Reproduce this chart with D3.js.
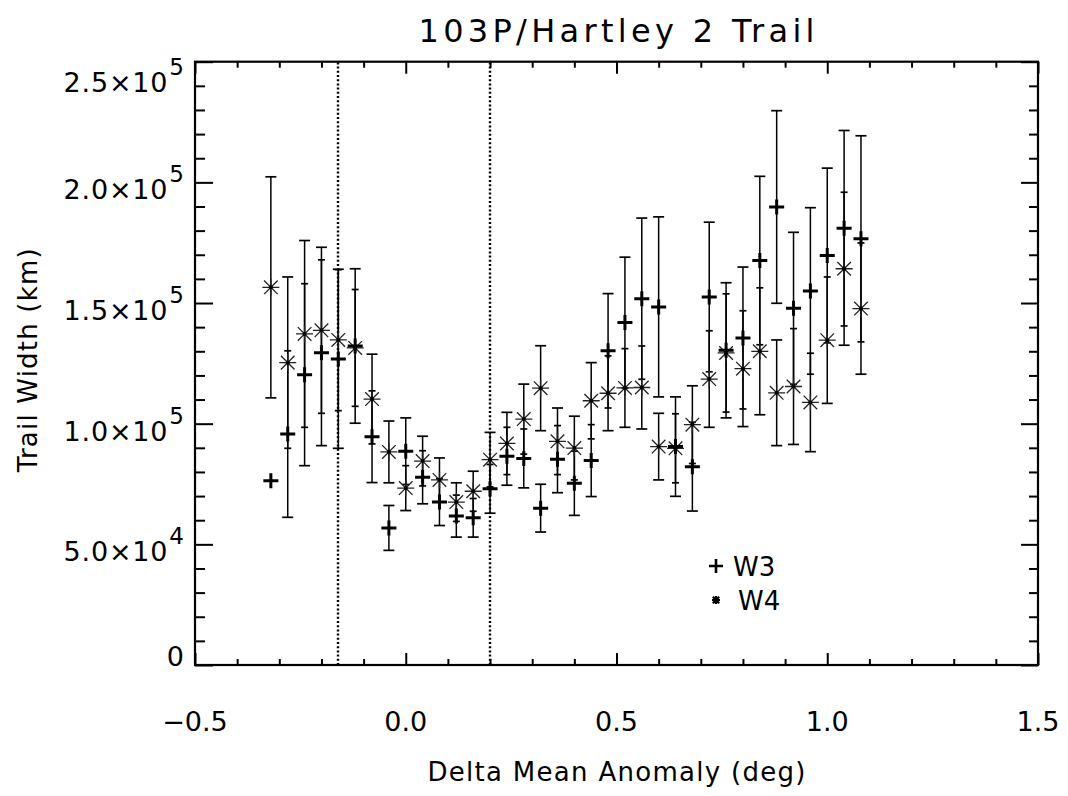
<!DOCTYPE html>
<html>
<head>
<meta charset="utf-8">
<script src="https://cdn.jsdelivr.net/npm/d3@7"></script>
<style>
  html, body { margin: 0; padding: 0; background: #fff; }
  svg { display: block; }
  text { font-family: "DejaVu Sans", sans-serif; fill: #000; }
</style>
</head>
<body>
<svg id="chart" width="1068" height="796"></svg>
<script>
// ---------------- data ----------------
const titleText = "103P/Hartley 2 Trail";
const xTitle = "Delta Mean Anomaly (deg)";
const yTitle = "Trail Width (km)";

const deltaMA = [-0.32,-0.28,-0.24,-0.20,-0.16,-0.12,-0.08,-0.04,0.00,0.04,0.08,0.12,
  0.16,0.20,0.24,0.28,0.32,0.36,0.40,0.44,0.48,0.52,0.56,0.60,0.64,0.68,0.72,0.76,
  0.80,0.84,0.88,0.92,0.96,1.00,1.04,1.08];

const w3Width = [76400,95700,120300,129400,126800,132200,94600,56800,88600,77800,67500,61700,
  61000,73000,86500,85600,65000,85300,75300,84700,130200,141900,151800,148400,90500,82200,
  152500,130400,135500,167600,189800,147800,155000,169700,181000,176600];
const w3Err = [0,34500,37700,38500,37000,32000,19000,9300,13800,11000,9700,8700,
  8000,10100,12000,12200,9900,13900,13300,14900,23700,27100,33400,37300,20600,18400,
  31000,28000,29400,34900,39900,31500,34500,36200,40500,42700];

const w4Width = [156500,125300,137200,138700,134700,131400,110200,88300,73300,84500,76700,67500,
  72000,85100,91800,101900,114700,92700,89900,109500,112600,114800,115000,90500,89800,99600,
  118500,129300,122800,130000,112800,115400,108800,134600,164200,147700];
const w4Err = [45800,35500,38700,34400,29300,24200,18600,12800,9300,10300,9100,8000,
  8300,11300,12900,14500,17600,13800,13200,15800,15500,16300,17200,13800,14300,16100,
  20000,24500,24000,26300,21900,24000,20400,26200,31700,27200];

const markerLines = [-0.16, 0.20];

const xMajorTicks = [-0.5, 0.0, 0.5, 1.0, 1.5];
const xTickLabels = ["\u22120.5", "0.0", "0.5", "1.0", "1.5"];
const yMajorTicks = [0, 50000, 100000, 150000, 200000, 250000];
const yTickMantissa = ["0", "5.0", "1.0", "1.5", "2.0", "2.5"];
const yTickExponent = ["", "4", "5", "5", "5", "5"];

const legendNames = ["W3", "W4"];

// ---------------- layout ----------------
const L = 195, R = 1038, T = 61.7, B = 665;
const svg = d3.select("#chart");
const x = d3.scaleLinear().domain([-0.5, 1.5]).range([L, R]);
const y = d3.scaleLinear().domain([0, 250000]).range([B, T]);

const xMinor = d3.range(-5, 16).map(i => i / 10).filter(v => !xMajorTicks.some(m => Math.abs(m - v) < 1e-9));
const yMinor = d3.range(0, 26).map(i => i * 10000).filter(v => v % 50000 !== 0);

function styleAxis(g) {
  g.select(".domain").remove();
  g.selectAll("line").attr("stroke", "#000").attr("stroke-width", 2);
  g.selectAll("text").remove();
}
// bottom
svg.append("g").attr("transform", `translate(0,${B})`)
  .call(d3.axisBottom(x).tickValues(xMajorTicks).tickSize(-12).tickFormat("")).call(styleAxis);
svg.append("g").attr("transform", `translate(0,${B})`)
  .call(d3.axisBottom(x).tickValues(xMinor).tickSize(-6).tickFormat("")).call(styleAxis);
// top
svg.append("g").attr("transform", `translate(0,${T})`)
  .call(d3.axisTop(x).tickValues(xMajorTicks).tickSize(-12).tickFormat("")).call(styleAxis);
svg.append("g").attr("transform", `translate(0,${T})`)
  .call(d3.axisTop(x).tickValues(xMinor).tickSize(-6).tickFormat("")).call(styleAxis);
// left
svg.append("g").attr("transform", `translate(${L},0)`)
  .call(d3.axisLeft(y).tickValues(yMajorTicks).tickSize(-18).tickFormat("")).call(styleAxis);
svg.append("g").attr("transform", `translate(${L},0)`)
  .call(d3.axisLeft(y).tickValues(yMinor).tickSize(-10).tickFormat("")).call(styleAxis);
// right
svg.append("g").attr("transform", `translate(${R},0)`)
  .call(d3.axisRight(y).tickValues(yMajorTicks).tickSize(-17).tickFormat("")).call(styleAxis);
svg.append("g").attr("transform", `translate(${R},0)`)
  .call(d3.axisRight(y).tickValues(yMinor).tickSize(-9).tickFormat("")).call(styleAxis);

// frame
svg.append("rect").attr("x", L).attr("y", T).attr("width", R - L).attr("height", B - T)
  .attr("fill", "none").attr("stroke", "#000").attr("stroke-width", 2.2);

// x tick labels
svg.append("g").selectAll("text").data(xMajorTicks).join("text")
  .attr("x", d => x(d)).attr("y", 731)
  .attr("text-anchor", "middle").attr("font-size", 27)
  .text((d, i) => xTickLabels[i]);

// y tick labels
const yl = svg.append("g");
yMajorTicks.forEach((v, i) => {
  let base = y(v) + 17;
  if (!yTickExponent[i]) base = y(v) + 1;
  if (i === yMajorTicks.length - 1) base += 13;
  const t = yl.append("text").attr("x", 184).attr("y", base)
    .attr("text-anchor", "end").attr("font-size", 27);
  if (yTickExponent[i]) {
    t.append("tspan").attr("textLength", 104).attr("lengthAdjust", "spacing")
      .text(yTickMantissa[i] + "\u00d710");
    t.append("tspan").attr("dy", -17).attr("dx", 1).attr("font-size", 23).text(yTickExponent[i]);
  } else {
    t.text(yTickMantissa[i]);
  }
});

// titles
svg.append("text").attr("x", (L + R) / 2).attr("y", 42)
  .attr("text-anchor", "middle").attr("font-size", 32)
  .attr("textLength", 396).attr("lengthAdjust", "spacing").text(titleText);
svg.append("text").attr("x", (L + R) / 2).attr("y", 781)
  .attr("text-anchor", "middle").attr("font-size", 26)
  .attr("textLength", 378).attr("lengthAdjust", "spacing").text(xTitle);
svg.append("text").attr("transform", `translate(37,${(T + B) / 2 - 3}) rotate(-90)`)
  .attr("text-anchor", "middle").attr("font-size", 26)
  .attr("textLength", 224).attr("lengthAdjust", "spacing").text(yTitle);

// dotted vertical lines
svg.append("g").selectAll("line").data(markerLines).join("line")
  .attr("x1", d => Math.round(x(d))).attr("x2", d => Math.round(x(d))).attr("y1", B).attr("y2", T)
  .attr("stroke", "#000").attr("stroke-width", 2.4).attr("stroke-dasharray", "2,2.2");

// error bars
const series = [
  { name: "W3", v: w3Width, e: w3Err },
  { name: "W4", v: w4Width, e: w4Err }
];
const eb = svg.append("g");
series.forEach((s, si) => {
  const o = series[1 - si];
  deltaMA.forEach((xv, i) => {
    if (!s.e[i]) return;
    const lo = s.v[i] - s.e[i], hi = s.v[i] + s.e[i];
    const olo = o.v[i] - o.e[i], ohi = o.v[i] + o.e[i];
    const inside = c => o.e[i] > 0 && c > olo && c < ohi;
    const px = x(xv);
    eb.append("line").attr("x1", px).attr("x2", px).attr("y1", y(lo)).attr("y2", y(hi))
      .attr("stroke", "#000").attr("stroke-width", 1.5);
    [lo, hi].forEach(c => {
      const w = inside(c) ? 3.5 : 5.5;
      eb.append("line").attr("x1", px - w).attr("x2", px + w).attr("y1", y(c)).attr("y2", y(c))
        .attr("stroke", "#000").attr("stroke-width", 1.7);
    });
  });
});

// markers
function asterisk(g, cx, cy, r, sw, color) {
  const a = r * 0.8;
  const p = `M${cx - r},${cy}H${cx + r}M${cx},${cy - r}V${cy + r}` +
    `M${cx - a},${cy - a}L${cx + a},${cy + a}M${cx - a},${cy + a}L${cx + a},${cy - a}`;
  g.append("path").attr("d", p).attr("stroke", color).attr("stroke-width", sw).attr("fill", "none");
}
function plus(g, cx, cy, r, sw) {
  g.append("path").attr("d", `M${cx - r},${cy}H${cx + r}M${cx},${cy - r}V${cy + r}`)
    .attr("stroke", "#000").attr("stroke-width", sw).attr("fill", "none");
}
const mk = svg.append("g");
deltaMA.forEach((xv, i) => {
  const cx = x(xv), cy = y(w4Width[i]);
  asterisk(mk, cx, cy, 8.5, 1.3, "#222");
  mk.append("circle").attr("cx", cx).attr("cy", cy).attr("r", 2).attr("fill", "#000");
});
deltaMA.forEach((xv, i) => {
  plus(mk, x(xv), y(w3Width[i]), 7.5, 3);
});

// legend
const lg = svg.append("g");
plus(lg, 716, 566, 7, 2.6);
lg.append("text").attr("x", 733).attr("y", 576).attr("font-size", 26).text(legendNames[0]);
asterisk(lg, 716, 600, 4, 2.2, "#000");
lg.append("text").attr("x", 738).attr("y", 610).attr("font-size", 26).text(legendNames[1]);
</script>
</body>
</html>
